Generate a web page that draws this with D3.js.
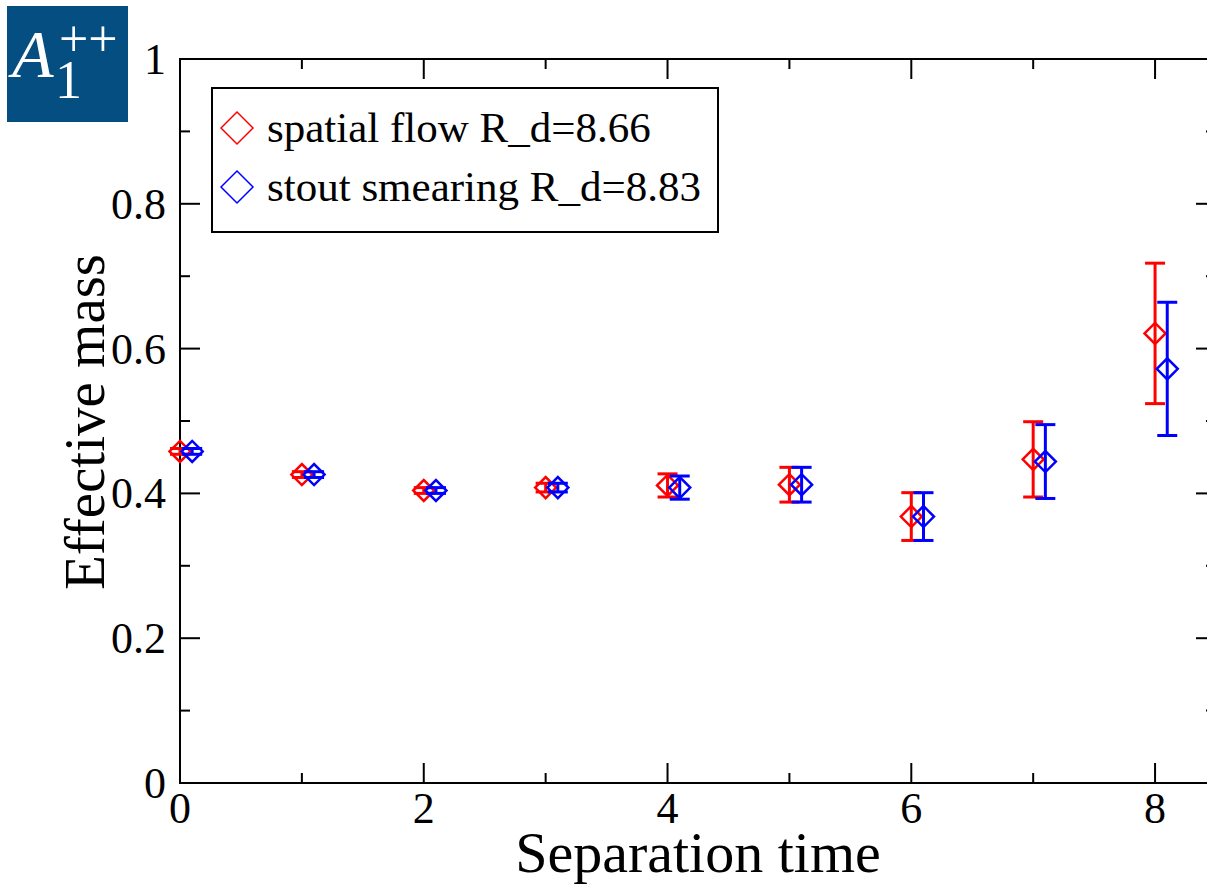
<!DOCTYPE html>
<html>
<head>
    <title>Effective mass</title>
    <style type="text/css">
        body { margin: 0; background: #fff; }
        svg text { font-family: "Liberation Serif", "DejaVu Serif", serif; }
    </style>
</head>
<body>
<script src="https://d3js.org/d3.v7.min.js" type="text/javascript"></script>
<script type="text/javascript">

    // data
    var times = [0, 1, 2, 3, 4, 5, 6, 7, 8];
    var flowMass = [0.458, 0.426, 0.404, 0.408, 0.411, 0.412, 0.368, 0.447, 0.621];
    var flowErr = [0.004, 0.004, 0.004, 0.006, 0.016, 0.024, 0.033, 0.052, 0.097];
    var stoutMass = [0.458, 0.426, 0.404, 0.408, 0.408, 0.412, 0.368, 0.444, 0.572];
    var stoutErr = [0.004, 0.004, 0.004, 0.006, 0.016, 0.024, 0.033, 0.051, 0.092];
    var xTicks = [0, 2, 4, 6, 8];
    var yTicks = [0, 0.2, 0.4, 0.6, 0.8, 1];
    var seriesNames = ['spatial flow R_d=8.66', 'stout smearing R_d=8.83'];
    var seriesColors = ['#ff0000', '#0000ff'];
    var stoutShift = 0.1;

    var W = 1207, H = 884;
    var pLeft = 180, pRight = 1216, pTop = 59, pBottom = 783;

    var svg = d3.select('body').append('svg')
        .attr('width', W)
        .attr('height', H);

    var x = d3.scaleLinear().domain([0, 8.5]).range([pLeft, pRight]);
    var y = d3.scaleLinear().domain([0, 1]).range([pBottom, pTop]);

    // frame
    svg.append('rect')
        .attr('x', pLeft).attr('y', pTop)
        .attr('width', pRight - pLeft).attr('height', pBottom - pTop)
        .attr('fill', 'none').attr('stroke', '#000').attr('stroke-width', 2);

    var xMinor = [1, 3, 5, 7];
    var yMinor = [0.1, 0.3, 0.5, 0.7, 0.9];

    function ticks(g, vals, len, axisPos, dir, scale, vertical) {
        g.selectAll(null).data(vals).enter().append('line')
            .attr(vertical ? 'x1' : 'y1', axisPos)
            .attr(vertical ? 'x2' : 'y2', axisPos + dir * len)
            .attr(vertical ? 'y1' : 'x1', function (d) { return scale(d); })
            .attr(vertical ? 'y2' : 'x2', function (d) { return scale(d); })
            .attr('stroke', '#000').attr('stroke-width', 2);
    }
    var tg = svg.append('g');
    ticks(tg, xTicks, 20, pBottom, -1, x, false);
    ticks(tg, xMinor, 10, pBottom, -1, x, false);
    ticks(tg, xTicks, 20, pTop, 1, x, false);
    ticks(tg, xMinor, 10, pTop, 1, x, false);
    ticks(tg, yTicks, 20, pLeft, 1, y, true);
    ticks(tg, yMinor, 10, pLeft, 1, y, true);
    ticks(tg, yTicks, 20, pRight, -1, y, true);
    ticks(tg, yMinor, 10, pRight, -1, y, true);

    // tick labels
    svg.append('g').selectAll('text').data(xTicks).enter().append('text')
        .attr('x', function (d) { return x(d); })
        .attr('y', 823)
        .attr('text-anchor', 'middle')
        .attr('font-size', 44)
        .text(function (d) { return d; });

    svg.append('g').selectAll('text').data(yTicks).enter().append('text')
        .attr('x', 166)
        .attr('y', function (d) { return y(d) + 15; })
        .attr('text-anchor', 'end')
        .attr('font-size', 44)
        .text(function (d) { return d; });

    // axis titles
    svg.append('text')
        .attr('x', 698).attr('y', 872)
        .attr('text-anchor', 'middle')
        .attr('font-size', 58)
        .text('Separation time');

    svg.append('text')
        .attr('transform', 'translate(104,422) rotate(-90)')
        .attr('text-anchor', 'middle')
        .attr('font-size', 57)
        .text('Effective mass');

    // series
    var series = [
        { mass: flowMass, err: flowErr, shift: 0, color: seriesColors[0] },
        { mass: stoutMass, err: stoutErr, shift: stoutShift, color: seriesColors[1] }
    ];

    var diamond = function (cx, cy, r) {
        return 'M' + (cx - r) + ',' + cy + 'L' + cx + ',' + (cy - r) +
            'L' + (cx + r) + ',' + cy + 'L' + cx + ',' + (cy + r) + 'Z';
    };

    series.forEach(function (s) {
        var pts = times.map(function (t, i) {
            return { t: t + s.shift, m: s.mass[i], e: s.err[i] };
        });
        var g = svg.append('g')
            .attr('stroke', s.color)
            .attr('fill', 'none')
            .attr('stroke-width', 3);

        pts.forEach(function (p) {
            var cx = x(p.t);
            g.append('line')
                .attr('x1', cx).attr('x2', cx)
                .attr('y1', y(p.m + p.e)).attr('y2', y(p.m - p.e));
            g.append('line')
                .attr('x1', cx - 10).attr('x2', cx + 10)
                .attr('y1', y(p.m + p.e)).attr('y2', y(p.m + p.e));
            g.append('line')
                .attr('x1', cx - 10).attr('x2', cx + 10)
                .attr('y1', y(p.m - p.e)).attr('y2', y(p.m - p.e));
            g.append('path')
                .attr('d', diamond(cx, y(p.m), 10.5))
                .attr('stroke-width', 2.5);
        });
    });

    // legend
    var leg = svg.append('g');
    leg.append('rect')
        .attr('x', 212).attr('y', 88)
        .attr('width', 506).attr('height', 144)
        .attr('fill', '#fff').attr('stroke', '#000').attr('stroke-width', 2);

    seriesNames.forEach(function (name, i) {
        var cy = 128 + i * 59;
        leg.append('path')
            .attr('d', diamond(237, cy, 16))
            .attr('fill', 'none')
            .attr('stroke', seriesColors[i])
            .attr('stroke-width', 1.5);
        leg.append('text')
            .attr('x', 267).attr('y', cy + 14)
            .attr('font-size', 43)
            .text(name);
    });

    // state label box
    var badge = svg.append('g');
    badge.append('rect')
        .attr('x', 7).attr('y', 6)
        .attr('width', 121).attr('height', 116)
        .attr('fill', '#044e81');
    badge.append('text')
        .attr('x', 12).attr('y', 77)
        .attr('font-size', 68)
        .attr('font-style', 'italic')
        .attr('fill', '#fff')
        .text('A');
    badge.append('text')
        .attr('x', 55).attr('y', 98)
        .attr('font-size', 54)
        .attr('fill', '#fff')
        .text('1');
    badge.append('text')
        .attr('x', 59).attr('y', 56)
        .attr('font-size', 52)
        .attr('fill', '#fff')
        .text('++');
</script>
</body>
</html>
